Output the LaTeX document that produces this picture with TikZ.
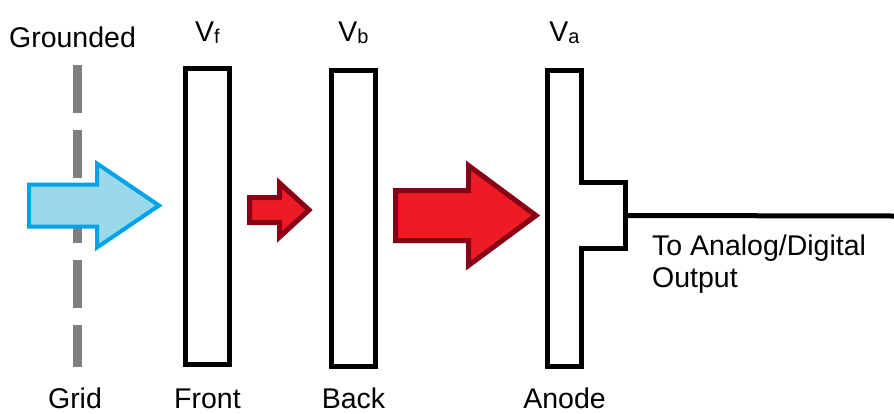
\documentclass[tikz,border=0pt]{standalone}
\usepackage{fontspec}
\setmainfont{Liberation Sans}
\usepackage{tikz}
\usetikzlibrary{positioning}

\definecolor{gridgray}{HTML}{7F7F7F}
\definecolor{beamblue}{HTML}{00A2E8}
\definecolor{beamfill}{HTML}{99D9EA}
\definecolor{beamred}{HTML}{ED1C24}
\definecolor{beamdark}{HTML}{880015}

% block arrow: [style]{tail x}{mid y}{shaft half}{head x}{head half}{tip x}
\newcommand{\fatarrow}[7][]{%
  \draw[#1] (#2,#3-#4) -- (#5,#3-#4) -- (#5,#3-#6) -- (#7,#3)
    -- (#5,#3+#6) -- (#5,#3+#4) -- (#2,#3+#4) -- cycle;}
% voltage label with a small subscript
\newcommand{\volt}[1]{V\raisebox{-2pt}{\fontsize{20}{20}\selectfont #1}}

\begin{document}
\begin{tikzpicture}[x=1pt, y=-1pt,
  lbl/.style={font=\fontsize{28.5}{32}\selectfont, inner sep=0pt, anchor=base},
  plate/.style={draw, line width=5pt, fill=white, minimum width=44pt,
                minimum height=296pt, inner sep=0pt},
  beam/.style={line width=4pt, line join=miter},
  ebeam/.style={beam, draw=beamblue, fill=beamfill},
  ibeam/.style={beam, line width=5pt, draw=beamdark, fill=beamred},
  wire/.style={line width=5pt}
]
\useasboundingbox (0,0) rectangle (894,413);

%% Grounded grid
\coordinate (gtop) at (77,65);
\coordinate (gbot) at (77,367);
\draw[gridgray, line width=9pt, dash pattern=on 48pt off 17pt] (gtop) -- (gbot);
\node[lbl] (grounded) at (72.5,47) {Grounded};
\node[lbl] (grid) at (75,408) {Grid};

%% Plates
\node[plate] (front) at (207.5,216.5) {};
\node[plate] (back) at (353.5,218) {};
\node[plate, draw=none, fill=none, minimum width=34pt, outer sep=0pt]
  (anode) at (564.5,218.5) {};
\draw[wire] (anode.north west) -- (anode.north east) -- ++(0,112)
  -- ++(44,0) -- ++(0,33) coordinate (tab) -- ++(0,33) -- ++(-44,0)
  -- (anode.south east) -- (anode.south west) -- cycle;

\node[lbl] (vf) at (front |- 0,41) {\volt{f}};
\node[lbl] (vb) at (back |- 0,41) {\volt{b}};
\node[lbl] (va) at (anode |- 0,41) {\volt{a}};

\node[lbl] (frontlbl) at (front |- 0,408) {Front};
\node[lbl] (backlbl) at (back |- 0,408) {Back};
\node[lbl] (anodelbl) at (anode |- 0,408) {Anode};

%% Beams
\fatarrow[ebeam]{29}{205.5}{21}{97}{42}{159}
\fatarrow[ibeam]{249.5}{210}{12.5}{279.5}{27}{309}
\fatarrow[ibeam]{395.5}{215.5}{25}{468.5}{50}{536}

%% Output
\coordinate (outend) at (894,216);
\draw[wire] (tab) -- (outend);
\node[lbl, anchor=north west, align=left] (output) at (652,235)
  {To Analog/Digital\\Output};

\end{tikzpicture}
\end{document}
